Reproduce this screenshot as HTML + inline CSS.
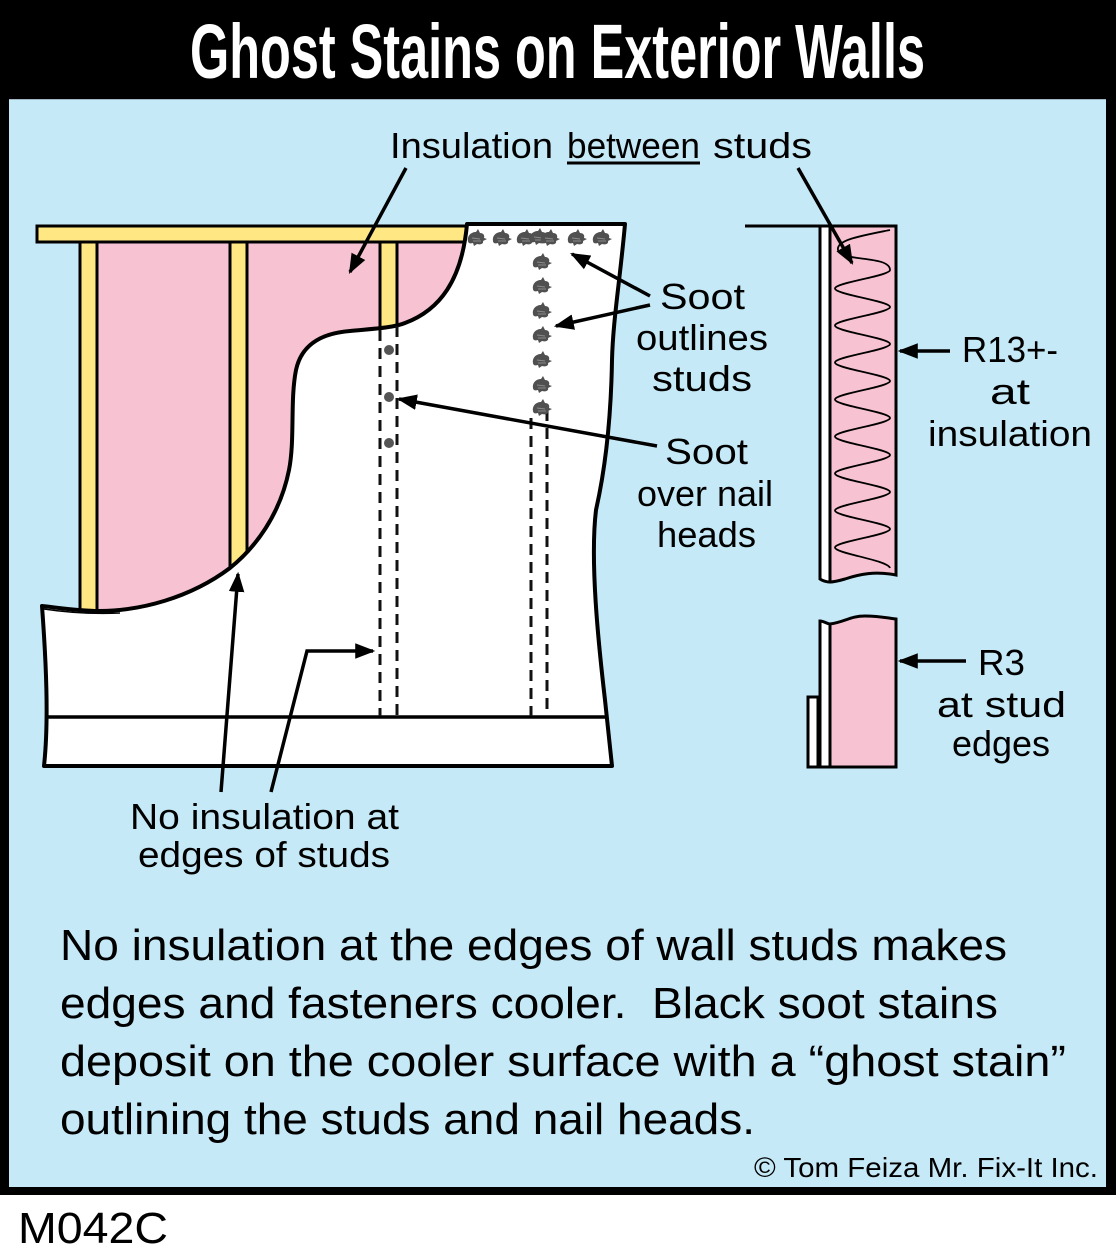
<!DOCTYPE html>
<html>
<head>
<meta charset="utf-8">
<style>
html,body{margin:0;padding:0;background:#fff;}
svg{display:block;}
text{font-family:"Liberation Sans","DejaVu Sans",sans-serif;}
</style>
</head>
<body>
<svg width="1116" height="1245" viewBox="0 0 1116 1245" xmlns="http://www.w3.org/2000/svg">
<defs>
<marker id="ah" viewBox="0 0 18 14" refX="16" refY="7" markerUnits="userSpaceOnUse" markerWidth="20" markerHeight="16" orient="auto">
<path d="M0,0 L18,7 L0,14 z" fill="#000"/>
</marker>
<g id="soot">
<path d="M-8,3 C-9,-2 -5,-6 0,-6 L2,-9 L4,-5 C7,-5 9,-3 8,0 L11,1 L7,3 C8,6 4,7 1,6 L-2,8 L-3,5 C-6,6 -8,5 -8,3 Z" fill="#505050"/>
<path d="M-4,0 L4,1 M-3,3 L5,3" stroke="#8a8a8a" stroke-width="1" fill="none"/>
</g>
</defs>

<!-- frame -->
<rect x="0" y="0" width="1116" height="1195" fill="#000"/>
<rect x="9" y="99" width="1097" height="1088" fill="#C6E9F7"/>
<line x1="9" y1="99.5" x2="1106" y2="99.5" stroke="#9fb8c4" stroke-width="1"/>

<!-- title -->
<text x="190" y="78" font-size="77" font-weight="bold" fill="#fff" textLength="735" lengthAdjust="spacingAndGlyphs">Ghost Stains on Exterior Walls</text>

<!-- pink insulation -->
<rect x="97" y="242" width="372" height="380" fill="#F7C3D3"/>
<!-- studs -->
<g fill="#FFE784" stroke="#000" stroke-width="3">
<rect x="80" y="242" width="17" height="380"/>
<rect x="230" y="242" width="17" height="380"/>
<rect x="380" y="242" width="17" height="100"/>
<rect x="37" y="226" width="430" height="16"/>
</g>

<!-- sheathing -->
<path d="M42,606 C60,608 80,611 99,611 C140,611 190,598 230,568 C255,548 280,515 289,470 C295,440 290,400 296,370 C302,342 325,333 350,331 C370,329 393,328 405,323 C440,310 462,280 467,224 L625,224 C620,280 613,320 612,360 C611,420 605,470 596,510 C590,560 598,640 605,700 L612,766 L44,766 C49,720 46,660 42,606 Z" fill="#fff" stroke="#000" stroke-width="4" stroke-linejoin="round"/>
<path d="M44,609 C70,613 95,614 120,613" fill="none" stroke="#000" stroke-width="1.5"/>
<line x1="47" y1="717" x2="608" y2="717" stroke="#000" stroke-width="3.5"/>

<!-- dashed stud outlines -->
<g stroke="#111" stroke-width="3" stroke-dasharray="11 7" fill="none">
<line x1="380" y1="330" x2="380" y2="716"/>
<line x1="397" y1="326" x2="397" y2="716"/>
<line x1="531" y1="418" x2="531" y2="716"/>
<line x1="547" y1="410" x2="547" y2="716"/>
</g>

<!-- nail dots -->
<g fill="#555">
<circle cx="389" cy="350" r="5"/>
<circle cx="389" cy="397" r="5"/>
<circle cx="389" cy="443" r="5"/>
</g>

<!-- soot marks -->
<use href="#soot" x="476" y="238"/>
<use href="#soot" x="501" y="238"/>
<use href="#soot" x="525" y="238"/>
<use href="#soot" x="538" y="237"/>
<use href="#soot" x="549" y="238"/>
<use href="#soot" x="576" y="238"/>
<use href="#soot" x="601" y="238"/>
<use href="#soot" x="541" y="262"/>
<use href="#soot" x="541" y="286"/>
<use href="#soot" x="541" y="311"/>
<use href="#soot" x="541" y="335"/>
<use href="#soot" x="541" y="360"/>
<use href="#soot" x="541" y="385"/>
<use href="#soot" x="541" y="408"/>

<!-- right cross-section top -->
<line x1="745" y1="226" x2="820" y2="226" stroke="#000" stroke-width="3"/>
<path d="M830,226 L896,226 L896,575 C875,571 860,574 845,579 C838,581 834,582 830,582 Z" fill="#F7C3D3" stroke="#000" stroke-width="3"/>
<path d="M820,226 L830,226 L830,582 C826,582 823,581 820,579 Z" fill="#fff" stroke="#000" stroke-width="3"/>
<path d="M890,230 C860,236 836,240 838,250 C840,262 890,255 890,270
C890,276 835,282.5 835,288.5
C835,294.5 890,301 890,307
C890,313 835,319.5 835,325.5
C835,331.5 890,338 890,344
C890,350 835,356.5 835,362.5
C835,368.5 890,375 890,381
C890,387 835,393.5 835,399.5
C835,405.5 890,412 890,418
C890,424 835,430.5 835,436.5
C835,442.5 890,449 890,455
C890,461 835,467.5 835,473.5
C835,479.5 890,486 890,492
C890,498 835,504.5 835,510.5
C835,516.5 890,523 890,529
C890,535 835,541.5 835,547.5
C835,553.5 888,560 890,568" fill="none" stroke="#000" stroke-width="1.8"/>

<!-- right cross-section bottom -->
<path d="M830,624 C845,622 850,616 865,616 C878,616 888,618 896,619 L896,767 L830,767 Z" fill="#F7C3D3" stroke="#000" stroke-width="3"/>
<path d="M820,621 C824,621 827,624 830,624 L830,767 L820,767 Z" fill="#fff" stroke="#000" stroke-width="3"/>
<rect x="808" y="697" width="10" height="70" fill="#fff" stroke="#000" stroke-width="3"/>

<!-- arrows -->
<g stroke="#000" stroke-width="3.5" fill="none" marker-end="url(#ah)">
<line x1="406" y1="168" x2="350" y2="272"/>
<line x1="798" y1="168" x2="852" y2="263"/>
<line x1="650" y1="296" x2="572" y2="254"/>
<line x1="650" y1="305" x2="556" y2="326"/>
<line x1="657" y1="446" x2="399" y2="399"/>
<line x1="221" y1="792" x2="238" y2="574"/>
<polyline points="271,792 307,651 373,651"/>
<line x1="950" y1="351" x2="900" y2="351"/>
<line x1="966" y1="661" x2="900" y2="661"/>
</g>

<!-- labels -->
<g font-size="36" fill="#000">
<text x="390" y="158" textLength="163" lengthAdjust="spacingAndGlyphs">Insulation</text>
<text x="567" y="158" textLength="133" lengthAdjust="spacingAndGlyphs">between</text>
<text x="713" y="158" textLength="99" lengthAdjust="spacingAndGlyphs">studs</text>
<text x="660" y="309" textLength="85" lengthAdjust="spacingAndGlyphs">Soot</text>
<text x="636" y="350" textLength="132" lengthAdjust="spacingAndGlyphs">outlines</text>
<text x="652" y="391" textLength="100" lengthAdjust="spacingAndGlyphs">studs</text>
<text x="665" y="464" textLength="83" lengthAdjust="spacingAndGlyphs">Soot</text>
<text x="637" y="506" textLength="136" lengthAdjust="spacingAndGlyphs">over nail</text>
<text x="657" y="547" textLength="99" lengthAdjust="spacingAndGlyphs">heads</text>
<text x="962" y="362" textLength="96" lengthAdjust="spacingAndGlyphs">R13+-</text>
<text x="990" y="404" textLength="40" lengthAdjust="spacingAndGlyphs">at</text>
<text x="928" y="446" textLength="164" lengthAdjust="spacingAndGlyphs">insulation</text>
<text x="978" y="675" textLength="47" lengthAdjust="spacingAndGlyphs">R3</text>
<text x="937" y="717" textLength="129" lengthAdjust="spacingAndGlyphs">at stud</text>
<text x="952" y="756" textLength="98" lengthAdjust="spacingAndGlyphs">edges</text>
<text x="130" y="829" textLength="269" lengthAdjust="spacingAndGlyphs">No insulation at</text>
<text x="138" y="867" textLength="252" lengthAdjust="spacingAndGlyphs">edges of studs</text>
</g>
<line x1="567" y1="163" x2="700" y2="163" stroke="#000" stroke-width="3"/>

<!-- paragraph -->
<g font-size="44" fill="#000">
<text x="60" y="960" textLength="947" lengthAdjust="spacingAndGlyphs">No insulation at the edges of wall studs makes</text>
<text x="60" y="1018" textLength="938" lengthAdjust="spacingAndGlyphs">edges and fasteners cooler.&#160; Black soot stains</text>
<text x="60" y="1076" textLength="1006" lengthAdjust="spacingAndGlyphs">deposit on the cooler surface with a “ghost stain”</text>
<text x="60" y="1134" textLength="695" lengthAdjust="spacingAndGlyphs">outlining the studs and nail heads.</text>
</g>

<text x="754" y="1177" font-size="28" fill="#000" textLength="344" lengthAdjust="spacingAndGlyphs">© Tom Feiza Mr. Fix-It Inc.</text>
<text x="18" y="1243" font-size="44" fill="#000" textLength="150" lengthAdjust="spacingAndGlyphs">M042C</text>
</svg>
</body>
</html>
